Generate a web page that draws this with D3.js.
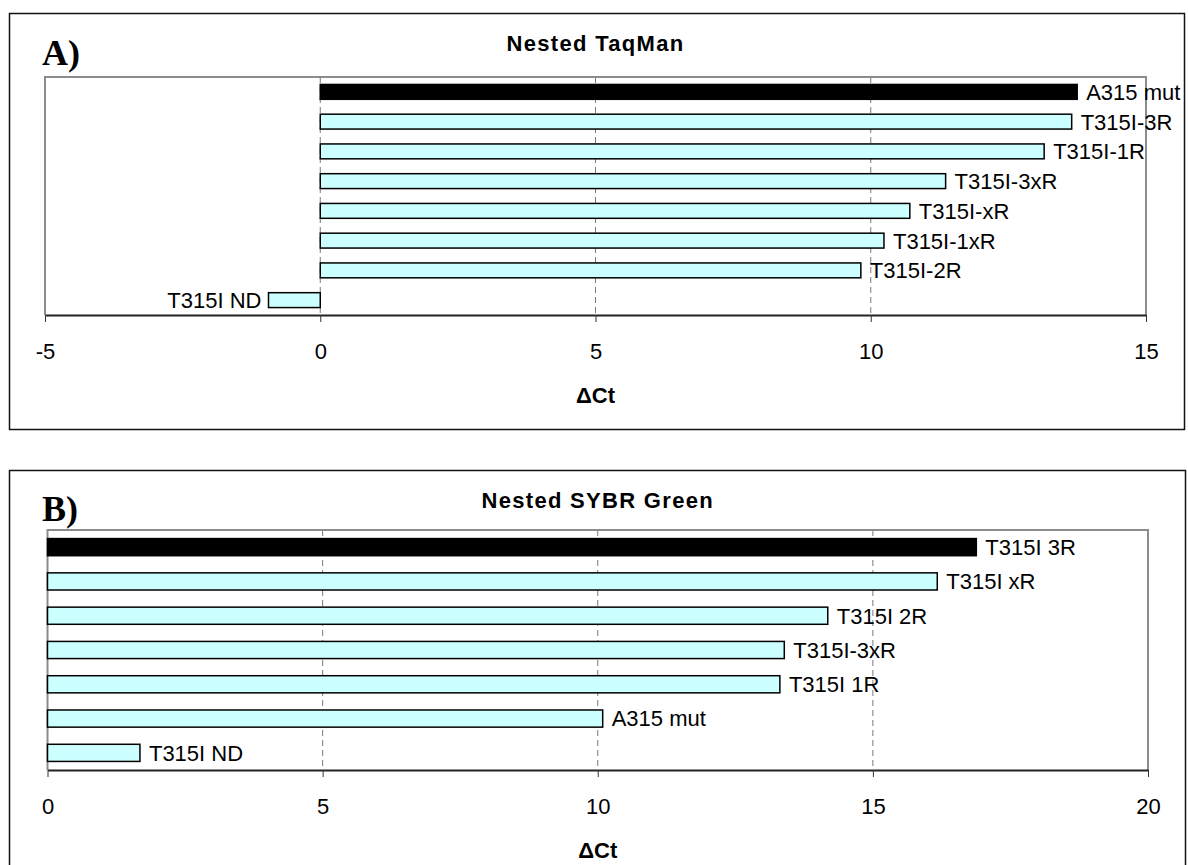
<!DOCTYPE html>
<html>
<head>
<meta charset="utf-8">
<script src="https://cdn.jsdelivr.net/npm/d3@7"></script>
<style>
  html, body { margin: 0; padding: 0; background: #fff; }
  svg { display: block; }
  text { font-family: "Liberation Sans", Arial, sans-serif; fill: #000; }
</style>
</head>
<body>
<svg id="chart" width="1188" height="865"></svg>
<script>
// ---- Data ----
const titleA = "Nested TaqMan";
const categoriesA = ["A315 mut", "T315I-3R", "T315I-1R", "T315I-3xR", "T315I-xR", "T315I-1xR", "T315I-2R", "T315I ND"];
const valuesA = [13.75, 13.65, 13.15, 11.36, 10.71, 10.24, 9.82, -0.94];
const highlightA = [true, false, false, false, false, false, false, false];
const ticksA = [-5, 0, 5, 10, 15];

const titleB = "Nested SYBR Green";
const categoriesB = ["T315I 3R", "T315I xR", "T315I 2R", "T315I-3xR", "T315I 1R", "A315 mut", "T315I ND"];
const valuesB = [16.88, 16.17, 14.18, 13.39, 13.31, 10.09, 1.68];
const highlightB = [true, false, false, false, false, false, false];
const ticksB = [0, 5, 10, 15, 20];

const axisTitle = "ΔCt";

// ---- Drawing ----
const svg = d3.select("#chart");

function panel(cfg) {
  const g = svg.append("g");
  // outer frame
  g.append("rect")
    .attr("x", cfg.frame[0] + 0.5).attr("y", cfg.frame[1] + 0.5)
    .attr("width", cfg.frame[2]).attr("height", cfg.frame[3])
    .attr("fill", "#fff").attr("stroke", "#111").attr("stroke-width", 1.5);

  const x = d3.scaleLinear().domain(d3.extent(cfg.ticks)).range([cfg.plot.left, cfg.plot.right]);
  const y = d3.scaleBand().domain(cfg.categories)
    .range([cfg.plot.top, cfg.plot.bottom]).paddingInner(0.5).paddingOuter(0.25);

  // panel letter
  g.append("text").attr("x", cfg.letterPos[0]).attr("y", cfg.letterPos[1])
    .style("font-family", "'Liberation Serif', 'Times New Roman', serif")
    .style("font-weight", "bold").style("font-size", "36px")
    .text(cfg.letter);

  // title
  g.append("text")
    .attr("x", (cfg.plot.left + cfg.plot.right) / 2)
    .attr("y", cfg.frame[1] + 37.5)
    .attr("text-anchor", "middle")
    .style("font-weight", "bold").style("font-size", "22px")
    .style("letter-spacing", "1.3px")
    .text(cfg.title);

  // gridlines (dashed) at interior ticks
  const inner = cfg.ticks.filter(t => t !== x.domain()[0] && t !== x.domain()[1]);
  g.append("g").selectAll("line").data(inner).join("line")
    .attr("x1", d => x(d)).attr("x2", d => x(d))
    .attr("y1", cfg.plot.top).attr("y2", cfg.plot.bottom)
    .attr("stroke", "#7a7a7a").attr("stroke-width", 1)
    .attr("stroke-dasharray", "6,4");

  // plot border (gray) top/left/right
  g.append("path")
    .attr("d", `M${cfg.plot.left},${cfg.plot.bottom}V${cfg.plot.top}H${cfg.plot.right}V${cfg.plot.bottom}`)
    .attr("fill", "none").attr("stroke", "#8c8c8c").attr("stroke-width", 2);

  // bars
  const data = cfg.categories.map((c, i) => ({ c, v: cfg.values[i], h: cfg.highlight[i] }));
  g.append("g").selectAll("rect").data(data).join("rect")
    .attr("x", d => x(Math.min(0, d.v)))
    .attr("width", d => Math.abs(x(d.v) - x(0)))
    .attr("y", d => y(d.c))
    .attr("height", y.bandwidth())
    .attr("fill", d => d.h ? "#000" : "#ccffff")
    .attr("stroke", "#000").attr("stroke-width", 1.5);

  // bar labels
  g.append("g").selectAll("text").data(data).join("text")
    .attr("x", d => d.v >= 0 ? x(d.v) + 9 : x(d.v) - 7)
    .attr("y", d => y(d.c) + y.bandwidth() / 2)
    .attr("dy", "0.36em")
    .attr("text-anchor", d => d.v >= 0 ? "start" : "end")
    .style("font-size", "22px")
    .text(d => d.c);

  // x axis
  const axis = d3.axisBottom(x).tickValues(cfg.ticks).tickFormat(d => String(d))
    .tickSize(7).tickSizeOuter(0).tickPadding(21);
  const ag = g.append("g").attr("transform", `translate(0,${cfg.plot.bottom})`).call(axis);
  ag.select(".domain").attr("stroke", "#222").attr("stroke-width", 2);
  ag.selectAll(".tick line").attr("stroke", "#333").attr("stroke-width", 1);
  ag.selectAll(".tick text").style("font-size", "22px")
    .style("font-family", "'Liberation Sans', Arial, sans-serif").attr("fill", "#000");

  // axis title
  g.append("text")
    .attr("x", (cfg.plot.left + cfg.plot.right) / 2)
    .attr("y", cfg.plot.bottom + 88)
    .attr("text-anchor", "middle")
    .style("font-weight", "bold").style("font-size", "22px")
    .text(axisTitle);
}

panel({
  frame: [9, 13, 1175, 416],
  plot: { left: 45, right: 1146, top: 77, bottom: 315 },
  letter: "A)", letterPos: [42, 65],
  title: titleA, categories: categoriesA, values: valuesA, highlight: highlightA, ticks: ticksA
});

panel({
  frame: [9, 470, 1176, 410],
  plot: { left: 47.5, right: 1148, top: 530, bottom: 770 },
  letter: "B)", letterPos: [42, 521],
  title: titleB, categories: categoriesB, values: valuesB, highlight: highlightB, ticks: ticksB
});
</script>
</body>
</html>
